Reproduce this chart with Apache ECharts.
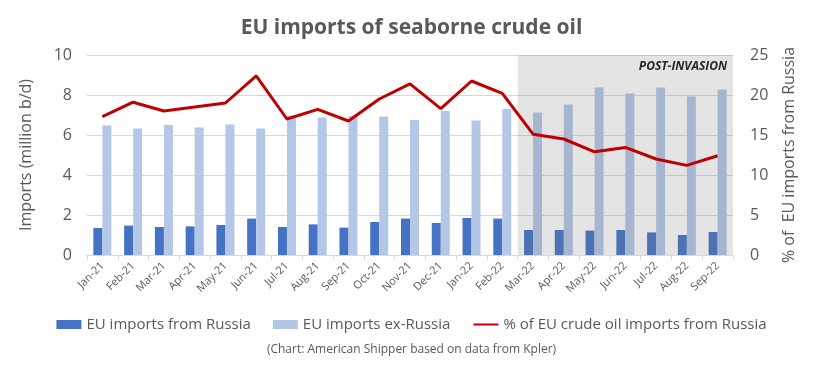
<!DOCTYPE html>
<html>
<head>
<meta charset="utf-8">
<script src="https://cdn.jsdelivr.net/npm/echarts@6/dist/echarts.min.js"></script>
<style>
html,body{margin:0;padding:0;background:#fff;}
#chart{width:823px;height:375px;}
</style>
</head>
<body>
<div id="chart"></div>
<script>
const categories = ['Jan-21','Feb-21','Mar-21','Apr-21','May-21','Jun-21','Jul-21','Aug-21','Sep-21','Oct-21','Nov-21','Dec-21','Jan-22','Feb-22','Mar-22','Apr-22','May-22','Jun-22','Jul-22','Aug-22','Sep-22'];
const importsFromRussia = [1.35,1.47,1.4,1.43,1.5,1.82,1.4,1.53,1.37,1.65,1.82,1.6,1.85,1.82,1.25,1.25,1.22,1.25,1.13,1.0,1.15];
const importsExRussia = [6.47,6.33,6.5,6.37,6.53,6.33,6.98,6.88,6.95,6.92,6.75,7.2,6.72,7.3,7.13,7.52,8.37,8.08,8.37,7.92,8.28];
const shareFromRussia = [17.3,19.1,18.0,18.5,19.0,22.4,17.0,18.2,16.75,19.5,21.4,18.3,21.75,20.2,15.1,14.5,12.9,13.45,12.0,11.2,12.4];
const leftTicks = [0, 10, 2];
const rightTicks = [0, 25, 5];
const postInvasionStart = 14;
const postInvasionEnd = 21;

const FONT = 'Open Sans';
const GREY = '#595959';

const chart = echarts.init(document.getElementById('chart'), null, {renderer: 'canvas'});
chart.setOption({
  animation: false,
  backgroundColor: '#ffffff',
  textStyle: {fontFamily: FONT},
  title: {
    text: 'EU imports of seaborne crude oil',
    left: 'center',
    top: 13,
    textStyle: {fontFamily: FONT, fontSize: 21, fontWeight: 'bold', color: GREY}
  },
  graphic: [{
    type: 'text',
    left: 'center',
    top: 344,
    style: {text: '(Chart: American Shipper based on data from Kpler)', font: '12px "Open Sans"', fill: GREY}
  }],
  legend: {
    left: 'center',
    top: 312,
    itemWidth: 25,
    itemHeight: 9,
    itemGap: 22,
    textStyle: {fontFamily: FONT, fontSize: 15, color: GREY},
    data: [
      {name: 'EU imports from Russia', icon: 'rect'},
      {name: 'EU imports ex-Russia', icon: 'rect'},
      {name: '% of EU crude oil imports from Russia', itemStyle: {opacity: 0}}
    ]
  },
  grid: {left: 87, right: 90, top: 55, bottom: 120},
  xAxis: [{
    type: 'category',
    data: categories,
    axisLine: {lineStyle: {color: '#d9d9d9', width: 1}},
    axisTick: {show: true, length: 5, lineStyle: {color: '#d9d9d9'}},
    axisLabel: {rotate: 45, fontSize: 11, color: GREY, margin: 9, interval: 0, fontFamily: FONT}
  }, {
    type: 'value',
    min: 0,
    max: categories.length,
    show: false
  }],
  yAxis: [{
    type: 'value',
    min: leftTicks[0], max: leftTicks[1], interval: leftTicks[2],
    name: 'Imports (million b/d)',
    nameLocation: 'middle',
    nameGap: 53,
    nameTextStyle: {fontFamily: FONT, fontSize: 16, color: GREY},
    axisLine: {show: false},
    axisTick: {show: false},
    axisLabel: {fontSize: 16, color: GREY, margin: 15, fontFamily: FONT},
    splitLine: {lineStyle: {color: '#d9d9d9', width: 1}}
  }, {
    type: 'value',
    min: rightTicks[0], max: rightTicks[1], interval: rightTicks[2],
    name: '% of  EU imports from Russia',
    nameLocation: 'middle',
    nameGap: 48,
    nameRotate: 90,
    nameTextStyle: {fontFamily: FONT, fontSize: 16, color: GREY},
    axisLine: {show: false},
    axisTick: {show: false},
    axisLabel: {fontSize: 16, color: GREY, margin: 17, fontFamily: FONT},
    splitLine: {show: false}
  }],
  series: [{
    name: 'EU imports from Russia',
    type: 'bar',
    data: importsFromRussia,
    barWidth: 9,
    barGap: '0%',
    z: 2,
    itemStyle: {color: '#4472c4'}
  }, {
    name: 'EU imports ex-Russia',
    type: 'bar',
    data: importsExRussia,
    barWidth: 9,
    barGap: '0%',
    z: 2,
    itemStyle: {color: '#b4c7e7'}
  }, {
    name: 'overlay',
    type: 'line',
    xAxisIndex: 1,
    yAxisIndex: 0,
    data: [],
    z: 3,
    markArea: {
      silent: true,
      z: 3,
      itemStyle: {color: 'rgba(110,110,110,0.19)'},
      label: {
        show: true,
        position: 'insideTopRight',
        distance: 6,
        formatter: 'POST-INVASION',
        fontFamily: FONT,
        fontSize: 12,
        fontWeight: 'bold',
        fontStyle: 'italic',
        color: '#262626'
      },
      data: [[{name: 'POST-INVASION', xAxis: postInvasionStart, yAxis: leftTicks[1]}, {xAxis: postInvasionEnd, yAxis: leftTicks[0]}]]
    }
  }, {
    name: '% of EU crude oil imports from Russia',
    type: 'line',
    yAxisIndex: 1,
    data: shareFromRussia,
    symbol: 'none',
    z: 5,
    lineStyle: {color: '#c00000', width: 3},
    itemStyle: {color: '#c00000'}
  }]
});
</script>
</body>
</html>
